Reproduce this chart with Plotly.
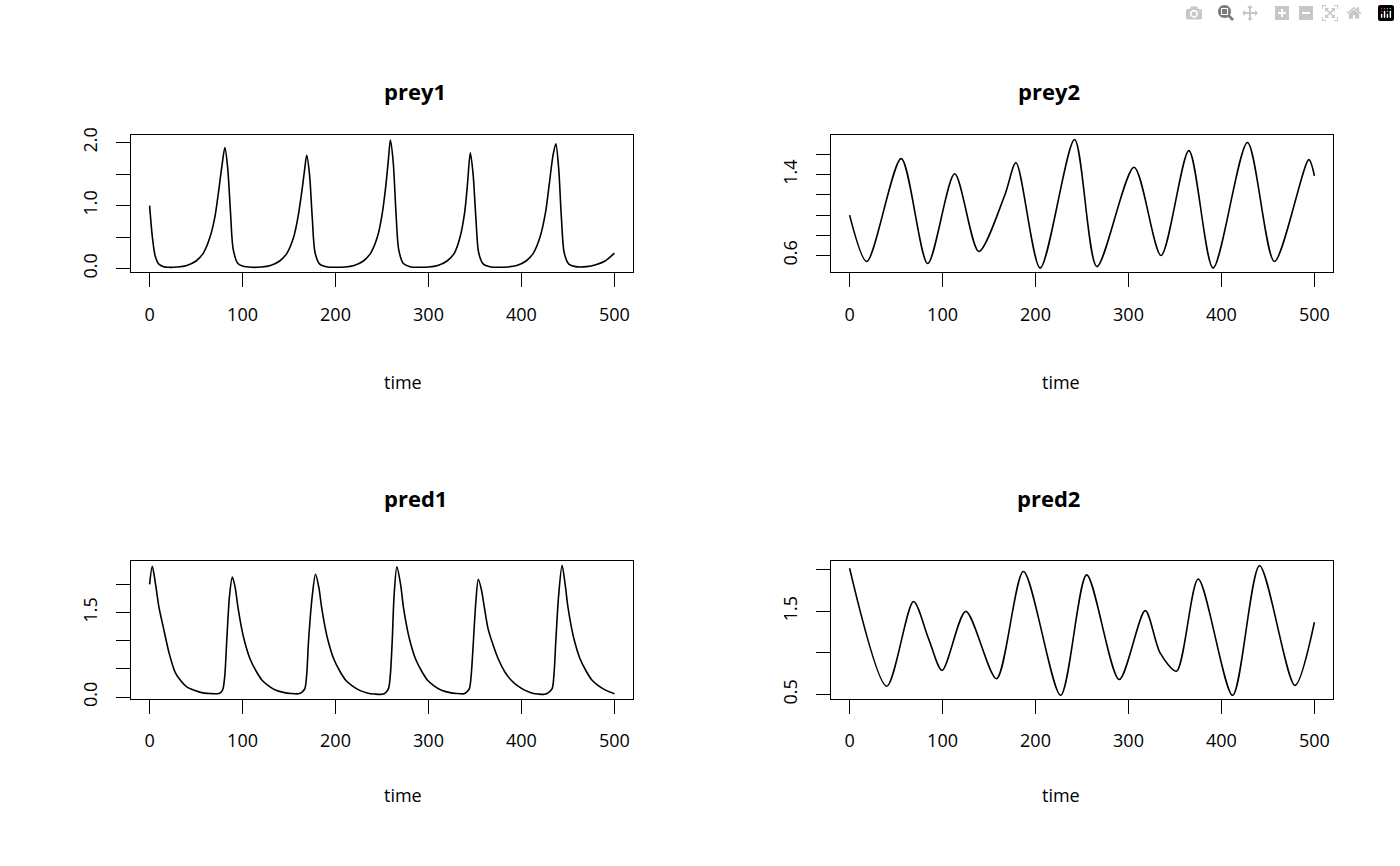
import plotly.graph_objects as go

# prey1
t_prey1 = [0,3,6,10,15,20,30,40,50,58,65,70,74,78,81,84,87,90,95,100,110,
           120,130,140,148,155,160,164,167,169,172,175,178,183,190,200,
           210,220,230,238,245,250,254,257,259,262,265,268,273,280,290,
           300,310,320,328,334,339,342,345,348,351,354,359,366,375,
           385,395,405,413,420,426,430,434,437,440,443,446,451,458,470,480,490,500]
v_prey1 = [1.0,0.5,0.2,0.07,0.03,0.02,0.025,0.05,0.12,0.25,0.5,0.8,1.2,1.65,1.92,1.6,0.9,0.3,0.08,0.04,0.02,
           0.025,0.05,0.12,0.25,0.5,0.85,1.25,1.6,1.80,1.5,0.8,0.25,0.07,0.03,0.02,
           0.025,0.05,0.12,0.25,0.5,0.85,1.3,1.75,2.04,1.7,0.9,0.3,0.08,0.03,0.02,
           0.025,0.05,0.12,0.25,0.5,0.9,1.35,1.84,1.5,0.8,0.25,0.07,0.03,0.02,
           0.025,0.05,0.12,0.25,0.5,0.9,1.35,1.8,1.98,1.6,0.8,0.25,0.07,0.03,0.03,0.06,0.12,0.245]

# prey2
t_prey2 = [0,18.5,55.5,84,113,139,167,179,205,242,266,306,335,365,391,428,457,494,500]
v_prey2 = [1.0,0.54,1.56,0.52,1.41,0.64,1.2,1.52,0.475,1.75,0.49,1.475,0.6,1.64,0.475,1.72,0.54,1.55,1.39]

# pred1
t_pred1 = [0,2.9,6,10,15,21,27.5,34,40,48,56,65,73,77,79,81,83,86,89,
           92,95,99,102,108,115,121,128,136,145,152,160,164,167,169,171,175,178.5,
           182,185,189,192,198,205,211,218,226,235,242,250,254,257,259,261,263,266,
           270,273,277,280,286,293,299,306,314,323,330,338,341,344,346,348,351,353.6,
           357,360,364,368,375,382,389,396,404,412,418,425,429,433,435,437,440,443.7,
           447,450,454,457,463,470,476,483,491,500]
v_pred1 = [2.0,2.32,2.05,1.6,1.22,0.78,0.44,0.28,0.18,0.12,0.08,0.065,0.06,0.09,0.15,0.4,1.0,1.8,2.13,
           1.95,1.6,1.22,1.0,0.68,0.45,0.3,0.2,0.12,0.08,0.065,0.06,0.09,0.15,0.4,1.0,1.8,2.18,
           1.95,1.6,1.22,1.0,0.68,0.45,0.3,0.2,0.12,0.07,0.055,0.05,0.08,0.15,0.4,1.0,1.8,2.31,
           2.0,1.6,1.22,1.0,0.68,0.45,0.3,0.2,0.12,0.08,0.065,0.06,0.09,0.15,0.4,0.9,1.7,2.09,
           1.9,1.6,1.22,1.0,0.68,0.45,0.3,0.2,0.12,0.07,0.055,0.05,0.08,0.15,0.4,1.0,1.8,2.34,
           2.0,1.6,1.22,1.0,0.68,0.45,0.3,0.2,0.12,0.06]

# pred2
t_pred2 = [0,40,68.7,85,99.5,125,158,187,227,255,290,318,334,351.6,375,412,441,479,500]
v_pred2 = [2.02,0.6,1.62,1.17,0.79,1.50,0.69,1.98,0.49,1.94,0.68,1.51,1.0,0.78,1.89,0.49,2.05,0.61,1.37]

titles = ["prey1", "prey2", "pred1", "pred2"]
series = [(t_prey1, v_prey1), (t_prey2, v_prey2), (t_pred1, v_pred1), (t_pred2, v_pred2)]
yranges = [[-0.06, 2.125], [0.433, 1.797], [-0.03, 2.41], [0.448, 2.104]]
yticks = [([0, 0.5, 1.0, 1.5, 2.0], ["0.0", "", "1.0", "", "2.0"]),
          ([0.6, 0.8, 1.0, 1.2, 1.4, 1.6], ["0.6", "", "", "", "1.4", ""]),
          ([0, 0.5, 1.0, 1.5, 2.0], ["0.0", "", "", "1.5", ""]),
          ([0.5, 1.0, 1.5, 2.0], ["0.5", "", "1.5", ""])]
xticks = [0, 100, 200, 300, 400, 500]

W, H = 1400, 866
xdoms = [[131/W, 633/W], [831/W, 1333/W]]
ydoms = [[1-270/H, 1-130/H], [1-704/H, 1-564/H]]
title_y = [1-68/H, 1-500/H]
time_y = [1-382/H, 1-816/H]

font = dict(family="Open Sans", size=18, color="black")
fig = go.Figure()
layout = dict(width=W, height=H, margin=dict(l=0, r=0, t=0, b=0),
              plot_bgcolor="white", paper_bgcolor="white", showlegend=False, font=font)
annotations = []
for i in range(4):
    r, c = divmod(i, 2)
    n = "" if i == 0 else str(i+1)
    t, v = series[i]
    fig.add_trace(go.Scatter(x=t, y=v, mode="lines", line=dict(color="black", width=1.6, shape="spline", smoothing=0.8),
                             xaxis="x"+n, yaxis="y"+n))
    layout["xaxis"+n] = dict(domain=xdoms[c], range=[-20, 520], anchor="y"+n, showgrid=False, zeroline=False,
                             showline=True, mirror=True, linecolor="black", linewidth=1,
                             ticks="outside", ticklen=14, tickcolor="black", tickvals=xticks,
                             ticklabelstandoff=12, tickfont=font)
    layout["yaxis"+n] = dict(domain=ydoms[r], range=yranges[i], anchor="x"+n, showgrid=False, zeroline=False,
                             showline=True, mirror=True, linecolor="black", linewidth=1,
                             ticks="outside", ticklen=14, tickcolor="black",
                             tickvals=yticks[i][0], ticktext=yticks[i][1], tickangle=-90,
                             ticklabelstandoff=12, tickfont=font)
    xc = (xdoms[c][0]+xdoms[c][1])/2
    annotations.append(dict(text="<b>"+titles[i]+"</b>", x=xc, y=title_y[r], xref="paper", yref="paper",
                            showarrow=False, font=dict(family="Open Sans", size=22, color="black")))
    annotations.append(dict(text="time", x=xc, y=time_y[r], xref="paper", yref="paper",
                            showarrow=False, font=font))
layout["annotations"] = annotations
fig.update_layout(**layout)
fig.write_html("out.html", post_script="document.body.style.margin='0';document.body.style.overflow='hidden';")
